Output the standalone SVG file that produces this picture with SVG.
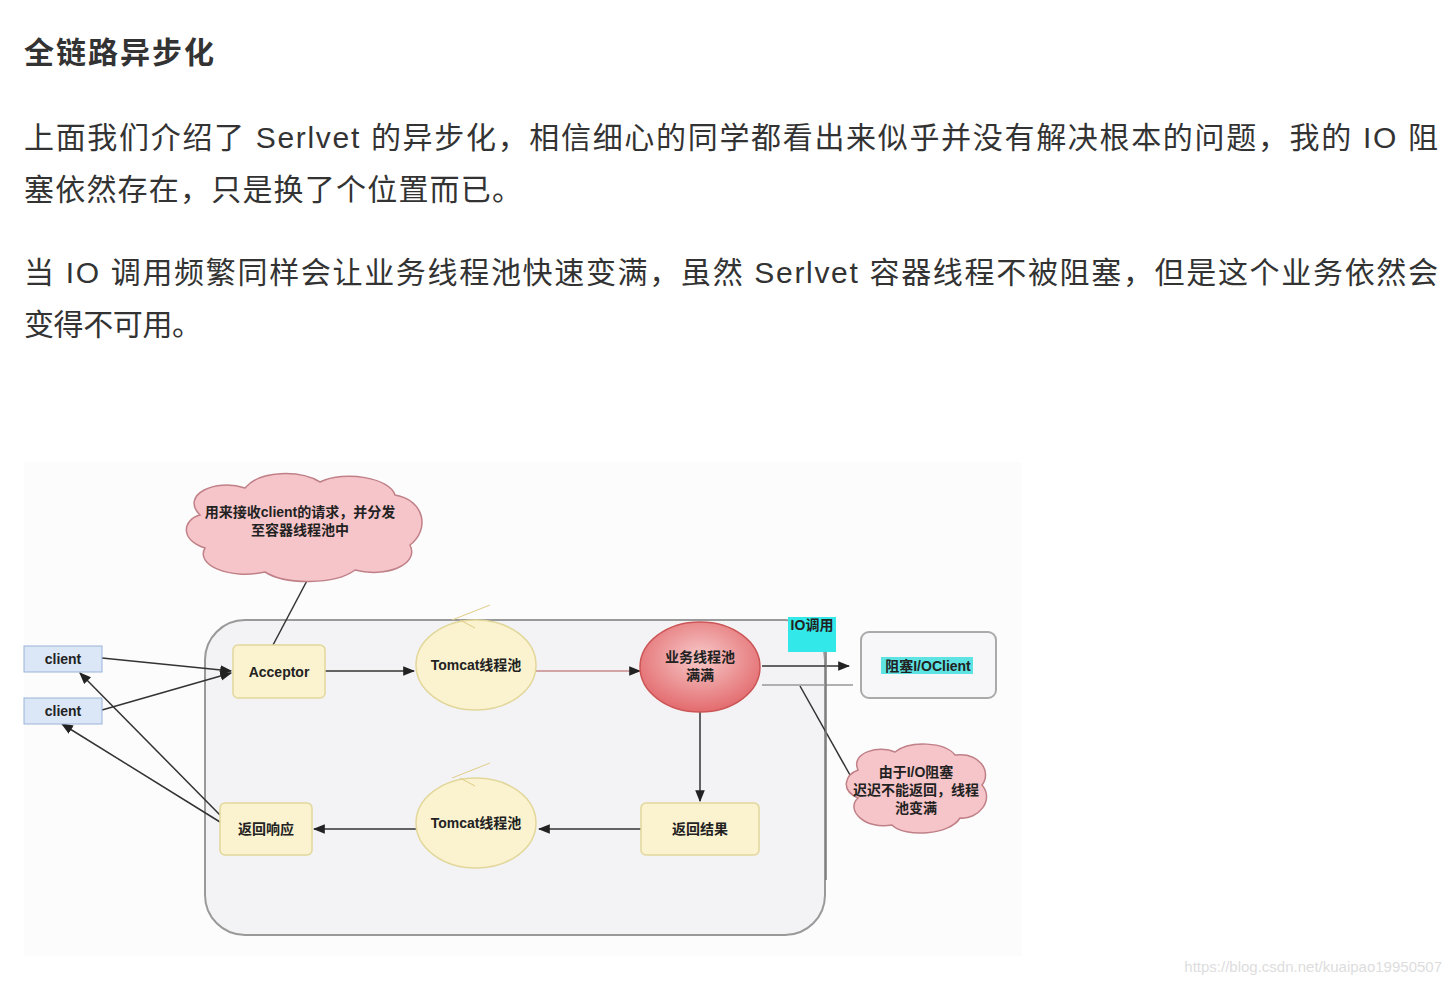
<svg xmlns="http://www.w3.org/2000/svg" width="1452" height="986" viewBox="0 0 1452 986">
<defs>
<style>
.t{font-family:"Liberation Sans","Noto Sans CJK SC",sans-serif;fill:#333}
.s{font-family:"Liberation Sans","Noto Sans CJK SC",sans-serif;font-size:14px;fill:#222;text-anchor:middle;font-weight:bold}
.ln{stroke:#333;stroke-width:1.5;fill:none}
.y{fill:#fbf3cf;stroke:#e2d79a;stroke-width:1.5}
</style>
<marker id="a" viewBox="0 0 10 10" refX="9" refY="5" markerWidth="8" markerHeight="8" orient="auto"><path d="M0,1 L10,5 L0,9 z" fill="#222"/></marker>
<radialGradient id="rg" cx="0.5" cy="0.4" r="0.6"><stop offset="0" stop-color="#f7c9c9"/><stop offset="1" stop-color="#e36b6e"/></radialGradient>
</defs>
<rect width="1452" height="986" fill="#fff"/>
<text class="t" x="24" y="63" font-size="30" font-weight="bold" textLength="190" lengthAdjust="spacing">全链路异步化</text>
<text class="t" x="24" y="148" font-size="30" textLength="1414" lengthAdjust="spacing">上面我们介绍了 Serlvet 的异步化，相信细心的同学都看出来似乎并没有解决根本的问题，我的 IO 阻</text>
<text class="t" x="24" y="200" font-size="30" textLength="498" lengthAdjust="spacing">塞依然存在，只是换了个位置而已。</text>
<text class="t" x="24" y="283" font-size="30" textLength="1414" lengthAdjust="spacing">当 IO 调用频繁同样会让业务线程池快速变满，虽然 Serlvet 容器线程不被阻塞，但是这个业务依然会</text>
<text class="t" x="24" y="335" font-size="30" textLength="178" lengthAdjust="spacing">变得不可用。</text>
<rect x="24" y="462" width="998" height="494" fill="#fcfcfc"/>
<rect id="container" x="205" y="620" width="620" height="315" rx="40" fill="#f3f3f5" stroke="#999" stroke-width="2"/>
<g id="connectors">
<line class="ln" x1="310" y1="575" x2="273" y2="645"/>
<line class="ln" x1="102" y1="658" x2="231" y2="671" marker-end="url(#a)"/>
<line class="ln" x1="102" y1="710" x2="231" y2="673" marker-end="url(#a)"/>
<line class="ln" x1="325" y1="671" x2="414" y2="671" marker-end="url(#a)"/>
<line x1="536" y1="671" x2="640" y2="671" stroke="#c98a8a" stroke-width="1.5" marker-end="url(#a)"/>
<line class="ln" x1="762" y1="666" x2="849" y2="666" marker-end="url(#a)"/>
<line x1="762" y1="685" x2="853" y2="685" stroke="#999" stroke-width="1.5"/>
<line class="ln" x1="800" y1="686" x2="850" y2="775"/>
<line x1="826" y1="652" x2="826" y2="880" stroke="#777" stroke-width="1.5"/>
<line class="ln" x1="700" y1="712" x2="700" y2="801" marker-end="url(#a)"/>
<line class="ln" x1="641" y1="829" x2="539" y2="829" marker-end="url(#a)"/>
<line class="ln" x1="416" y1="829" x2="314" y2="829" marker-end="url(#a)"/>
<line class="ln" x1="220" y1="815" x2="80" y2="673" marker-end="url(#a)"/>
<line class="ln" x1="220" y1="822" x2="62" y2="724" marker-end="url(#a)"/>
</g>
<g id="cloud1"><path d="M200,515 C180,495 215,478 245,488 C260,470 300,470 320,482 C345,470 390,478 395,495 C425,500 430,530 410,545 C420,565 385,578 355,570 C335,585 285,585 265,572 C230,580 195,565 205,548 C180,540 182,520 200,515 Z" fill="#f6c5c9" stroke="#c08088" stroke-width="1.5"/>
<text class="s" x="300" y="517" font-size="13">用来接收client的请求，并分发</text><text class="s" x="300" y="535" font-size="13">至容器线程池中</text></g>
<g id="client1"><rect x="24" y="646" width="78" height="26" fill="#dbe7f7" stroke="#9ab3d8"/><text class="s" x="63" y="664">client</text></g>
<g id="client2"><rect x="24" y="698" width="78" height="26" fill="#dbe7f7" stroke="#9ab3d8"/><text class="s" x="63" y="716">client</text></g>
<g id="acceptor"><rect class="y" x="233" y="645" width="92" height="53" rx="5"/><text class="s" x="279" y="677">Acceptor</text></g>
<g id="tomcat1"><ellipse class="y" cx="476" cy="665" rx="60" ry="45"/><path d="M452,620 L490,605 M460,620 L475,628" stroke="#e0cc88" fill="none"/><text class="s" x="476" y="670">Tomcat线程池</text></g>
<g id="biz"><ellipse cx="700" cy="667" rx="60" ry="45" fill="url(#rg)" stroke="#c55" stroke-width="1.5"/><text class="s" x="700" y="662">业务线程池</text><text class="s" x="700" y="680">满满</text></g>
<g id="io"><rect x="788" y="617" width="48" height="35" fill="#33e8e8"/><text class="s" x="812" y="630" font-size="13">IO调用</text></g>
<g id="ioclient"><rect x="861" y="632" width="135" height="66" rx="8" fill="#f7f7f9" stroke="#aaa" stroke-width="2"/><rect x="881" y="657" width="92" height="17" fill="#5ee3e3"/><text class="s" x="928" y="671">阻塞I/OClient</text></g>
<g id="resp"><rect class="y" x="220" y="803" width="92" height="52" rx="5"/><text class="s" x="266" y="834">返回响应</text></g>
<g id="tomcat2"><ellipse class="y" cx="476" cy="823" rx="60" ry="45"/><path d="M452,778 L490,763 M460,778 L475,786" stroke="#e0cc88" fill="none"/><text class="s" x="476" y="828">Tomcat线程池</text></g>
<g id="result"><rect class="y" x="641" y="803" width="118" height="52" rx="5"/><text class="s" x="700" y="834">返回结果</text></g>
<g id="cloud2"><path d="M858,770 C850,752 880,745 895,752 C910,740 945,742 955,755 C980,752 992,772 982,785 C995,800 978,820 960,818 C950,835 905,838 892,825 C865,830 845,810 858,798 C840,790 845,775 858,770 Z" fill="#f6c5c9" stroke="#c08088" stroke-width="1.5"/>
<text class="s" x="916" y="777" font-size="13">由于I/O阻塞</text><text class="s" x="916" y="795" font-size="13">迟迟不能返回，线程</text><text class="s" x="916" y="813" font-size="13">池变满</text></g>
<text x="1442" y="972" text-anchor="end" font-family="Liberation Sans, sans-serif" font-size="15" fill="#ddd">https://blog.csdn.net/kuaipao19950507</text>
</svg>
